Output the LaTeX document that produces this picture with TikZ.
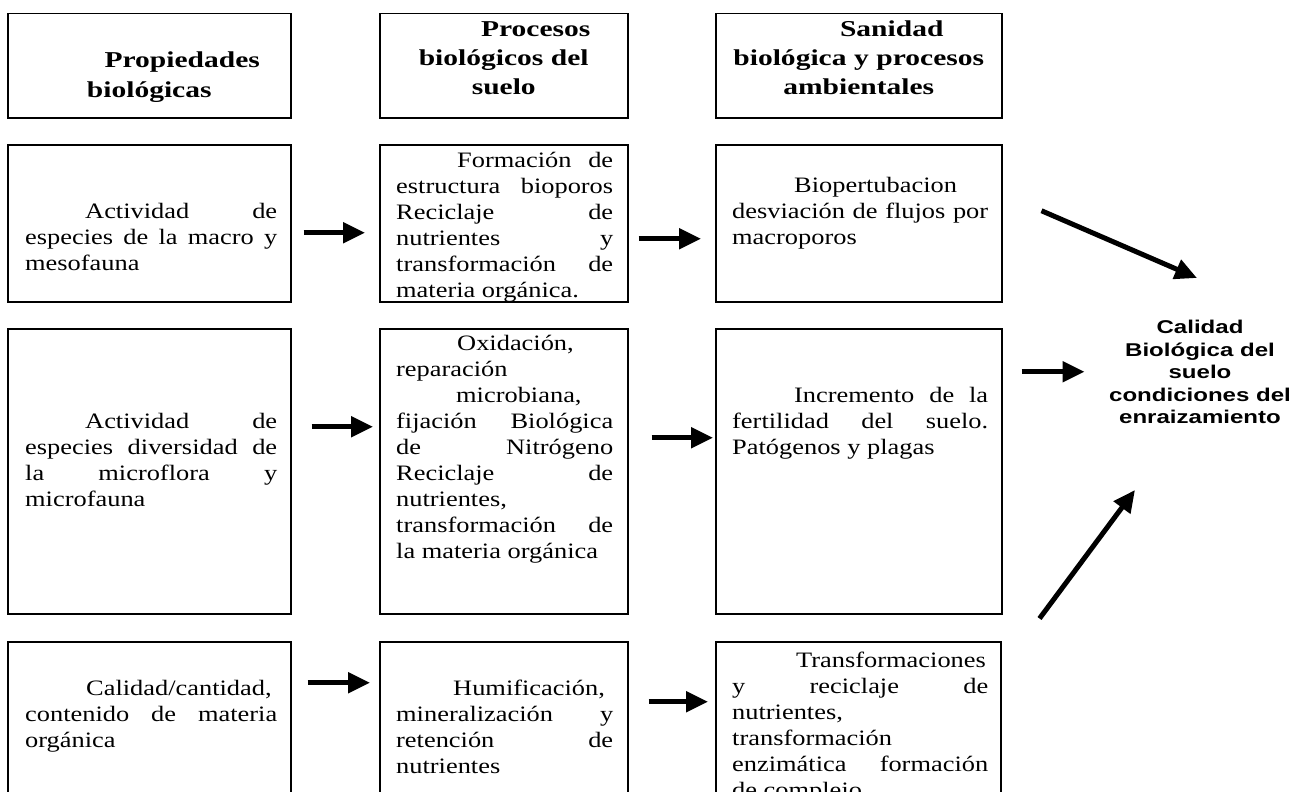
\documentclass[tikz,border=0pt]{standalone}
\usepackage{fontspec}
\newfontfamily\tnr{Liberation Serif}[FakeStretch=1.2]
\newfontfamily\tnrh{Liberation Serif}[FakeStretch=1.3]
\newfontfamily\arl{Liberation Sans}[FakeStretch=1.3]
\usetikzlibrary{positioning, arrows.meta}
\hyphenpenalty=10000

\tikzset{
	caja/.style={draw, line width=1.5pt, inner sep=0pt, anchor=north west},
	texto/.style={anchor=base west, inner sep=0pt, align=justify, font=\tnr\fontsize{22}{26}\selectfont},
	titulo/.style={anchor=base, inner sep=0pt, align=center, text width=270pt, font=\tnrh\bfseries\fontsize{22.7}{29}\selectfont},
	calidad/.style={anchor=north, inner sep=0pt, align=center, font=\arl\bfseries\fontsize{18.5}{22.5}\selectfont},
	flecha/.style={line width=5pt, -{Triangle[length=22pt, width=20pt]}}
}

\begin{document}
\begin{tikzpicture}[x=1pt, y=1pt]
				\useasboundingbox (0,0) rectangle (1296,-792);
				\clip (0,0) rectangle (1296,-792);
				
				% encabezados
				\node[caja, minimum width=283pt, minimum height=104pt] (h1) at (7,-13) {};
				\node[caja, minimum width=248pt, minimum height=104pt] (h2) at (379,-13) {};
				\node[caja, minimum width=286pt, minimum height=104pt] (h3) at (715,-13) {};
				\node[titulo] (th1) at ([yshift=-55pt]h1.north) {\hspace*{66pt}Propiedades\\biológicas};
				\node[titulo] (th2) at ([yshift=-24pt]h2.north) {\hspace*{64pt}Procesos\\biológicos del\\suelo};
				\node[titulo] (th3) at ([yshift=-24pt]h3.north) {\hspace*{66pt}Sanidad\\biológica y procesos\\ambientales};
				
				% fila 1
				\node[caja, minimum width=283pt, minimum height=157pt] (b11) at (7,-144) {};
				\node[caja, minimum width=248pt, minimum height=157pt] (b12) at (379,-144) {};
				\node[caja, minimum width=286pt, minimum height=157pt] (b13) at (715,-144) {};
				\node[texto, text width=252pt] (t11) at ([shift={(18pt,-74pt)}]b11.north west) {\hspace*{60pt}Actividad de\linebreak especies de la macro y\linebreak mesofauna};
				\node[texto, text width=217pt] (t12) at ([shift={(17pt,-23pt)}]b12.north west) {\hspace*{61pt}Formación de\linebreak estructura bioporos\linebreak Reciclaje de\linebreak nutrientes y\linebreak transformación de\linebreak materia orgánica.};
				\node[texto, text width=256pt] (t13) at ([shift={(17pt,-48pt)}]b13.north west) {\hspace*{62pt}Biopertubacion\newline desviación de flujos por\linebreak macroporos};
				
				% fila 2
				\node[caja, minimum width=283pt, minimum height=285pt] (b21) at (7,-328) {};
				\node[caja, minimum width=248pt, minimum height=285pt] (b22) at (379,-328) {};
				\node[caja, minimum width=286pt, minimum height=285pt] (b23) at (715,-328) {};
				\node[texto, text width=252pt] (t21) at ([shift={(18pt,-100pt)}]b21.north west) {\hspace*{60pt}Actividad de\linebreak especies diversidad de\linebreak la microflora y\linebreak microfauna};
				\node[texto, text width=217pt] (t22) at ([shift={(17pt,-22pt)}]b22.north west) {\hspace*{61pt}Oxidación,\newline reparación\newline \hspace*{60pt}microbiana,\newline fijación Biológica\linebreak de Nitrógeno\linebreak Reciclaje de\linebreak nutrientes,\newline transformación de\linebreak la materia orgánica};
				\node[texto, text width=256pt] (t23) at ([shift={(17pt,-74pt)}]b23.north west) {\hspace*{62pt}Incremento de la\linebreak fertilidad del suelo.\linebreak Patógenos y plagas};
				
				% fila 3
				\node[caja, minimum width=283pt, minimum height=170pt] (b31) at (7,-641) {};
				\node[caja, minimum width=248pt, minimum height=170pt] (b32) at (379,-641) {};
				\node[caja, minimum width=285pt, minimum height=170pt] (b33) at (715,-641) {};
				\node[texto, text width=252pt] (t31) at ([shift={(18pt,-54pt)}]b31.north west) {\hspace*{61pt}Calidad/cantidad,\newline contenido de materia\linebreak orgánica};
				\node[texto, text width=217pt] (t32) at ([shift={(17pt,-54pt)}]b32.north west) {\hspace*{57pt}Humificación,\newline mineralización y\linebreak retención de\linebreak nutrientes};
				\node[texto, text width=256pt] (t33) at ([shift={(17pt,-26pt)}]b33.north west) {\hspace*{64pt}Transformaciones\newline y reciclaje de\linebreak nutrientes,\newline transformación\newline enzimática formación\linebreak de complejo.};
				
				% resultado
				\node[calidad] (cal) at (1200,-320) {Calidad\\Biológica del\\suelo\\condiciones del\\enraizamiento};
				
				% flechas
				\draw[flecha, shorten <=12pt, shorten >=14pt] ([yshift=-9.5pt]b11.east) -- ([yshift=-9.5pt]b12.west);
				\draw[flecha, shorten <=10pt, shorten >=14pt] ([yshift=-15.5pt]b12.east) -- ([yshift=-15.5pt]b13.west);
				\draw[flecha, shorten <=20pt, shorten >=6pt] ([yshift=44.5pt]b21.east) -- ([yshift=44.5pt]b22.west);
				\draw[flecha, shorten <=23pt, shorten >=2pt] ([yshift=33.5pt]b22.east) -- ([yshift=33.5pt]b23.west);
				\draw[flecha, shorten <=16pt, shorten >=9pt] ([yshift=44pt]b31.east) -- ([yshift=44pt]b32.west);
				\draw[flecha, shorten <=20pt, shorten >=7pt] ([yshift=25pt]b32.east) -- ([yshift=25pt]b33.west);
				
				\draw[flecha] ([shift={(39pt,12.5pt)}]b13.east) -- ([shift={(-3pt,42pt)}]cal.north);
				\draw[flecha] ([shift={(19pt,99.5pt)}]b23.east) -- ++(63pt,0);
				\draw[flecha] ([shift={(37pt,-4pt)}]b23.south east) -- ([shift={(-65pt,-66pt)}]cal.south);
			\end{tikzpicture}
\end{document}
